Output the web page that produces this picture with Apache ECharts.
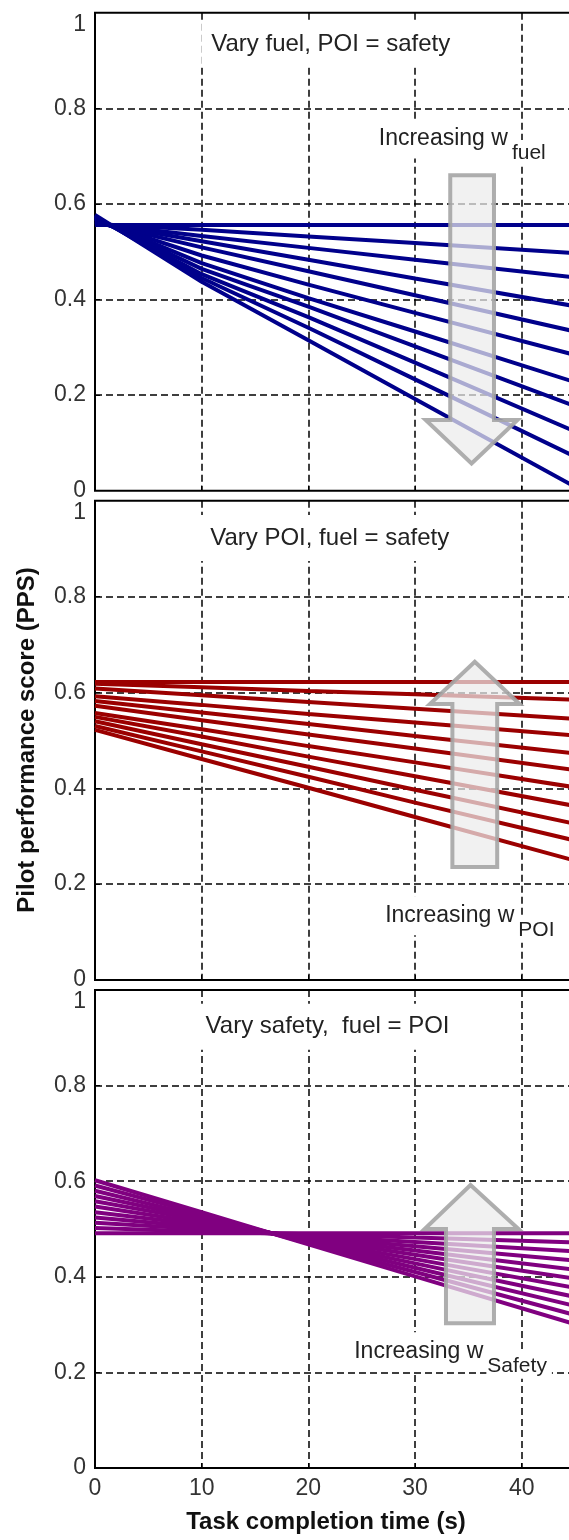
<!DOCTYPE html>
<html><head><meta charset="utf-8">
<script src="https://cdn.jsdelivr.net/npm/echarts@6/dist/echarts.min.js"></script>
<style>html,body{margin:0;padding:0;background:#fff;overflow:hidden}#c{width:569px;height:1540px}</style>
</head><body><div id="c"></div>
<script>
// ---- data ----
const TIMES = [0, 10, 20, 30, 45];              // task completion time (s)
const X_TICKS = [0, 10, 20, 30, 40, 50];
const Y_TICKS = [0, 0.2, 0.4, 0.6, 0.8, 1];

// Panel 1: Vary fuel, POI = safety  (PPS at TIMES, w_fuel increasing top->bottom)
const fuelLines = [
  [0.556, 0.556, 0.556, 0.556, 0.556],
  [0.558, 0.546, 0.532, 0.518, 0.497],
  [0.559, 0.533, 0.508, 0.483, 0.446],
  [0.561, 0.522, 0.483, 0.444, 0.386],
  [0.562, 0.509, 0.459, 0.409, 0.333],
  [0.565, 0.492, 0.431, 0.372, 0.284],
  [0.568, 0.476, 0.403, 0.333, 0.227],
  [0.570, 0.464, 0.385, 0.302, 0.177],
  [0.572, 0.453, 0.363, 0.268, 0.124],
  [0.574, 0.445, 0.341, 0.233, 0.071],
  [0.577, 0.437, 0.315, 0.192, 0.008]
];
// Panel 2: Vary POI, fuel = safety
const poiLines = [
  [0.622, 0.622, 0.622, 0.622, 0.622],
  [0.618, 0.611, 0.603, 0.596, 0.585],
  [0.608, 0.594, 0.580, 0.566, 0.545],
  [0.592, 0.574, 0.555, 0.537, 0.510],
  [0.582, 0.558, 0.534, 0.509, 0.473],
  [0.572, 0.542, 0.512, 0.483, 0.438],
  [0.557, 0.523, 0.488, 0.454, 0.402],
  [0.549, 0.508, 0.466, 0.425, 0.363],
  [0.540, 0.492, 0.445, 0.397, 0.326],
  [0.530, 0.477, 0.424, 0.370, 0.291],
  [0.522, 0.461, 0.401, 0.340, 0.249]
];
// Panel 3: Vary safety, fuel = POI
const safetyLines = [
  [0.491, 0.491, 0.491, 0.491, 0.491],
  [0.502, 0.495, 0.489, 0.482, 0.472],
  [0.513, 0.500, 0.486, 0.473, 0.453],
  [0.524, 0.504, 0.484, 0.464, 0.434],
  [0.535, 0.509, 0.482, 0.455, 0.415],
  [0.547, 0.513, 0.480, 0.446, 0.396],
  [0.558, 0.518, 0.477, 0.437, 0.377],
  [0.569, 0.522, 0.475, 0.428, 0.358],
  [0.580, 0.526, 0.473, 0.419, 0.339],
  [0.591, 0.531, 0.470, 0.410, 0.320],
  [0.602, 0.535, 0.468, 0.401, 0.301]
];

const PANEL_TITLES = ['Vary fuel, POI = safety', 'Vary POI, fuel = safety', 'Vary safety,  fuel = POI'];
const ANNOT_MAIN = 'Increasing w';
const ANNOT_SUBS = ['fuel', 'POI', 'Safety'];
const X_TITLE = 'Task completion time (s)';
const Y_TITLE = 'Pilot performance score (PPS)';

// ---- styling / layout ----
const FONT = '"Liberation Sans", Arial, Helvetica, sans-serif';
const COLORS = ['#00008b', '#9b0000', '#800080'];
const PANELS = [fuelLines, poiLines, safetyLines];
const GRID_TOPS = [12.7, 500.7, 990];
const GRID_HEIGHTS = [478, 479.3, 478];

const chart = echarts.init(document.getElementById('c'), null, {renderer: 'canvas'});

const grids = [], xAxes = [], yAxes = [], series = [];
for (let i = 0; i < 3; i++) {
  grids.push({left: 95, width: 533.4, top: GRID_TOPS[i], height: GRID_HEIGHTS[i],
    containLabel: false, outerBoundsMode: 'none',
    show: true, borderColor: '#000', borderWidth: 2, backgroundColor: '#fff'});
  xAxes.push({type: 'value', gridIndex: i, min: X_TICKS[0], max: X_TICKS[X_TICKS.length - 1], interval: 10,
    axisLine: {show: false},
    axisTick: {show: true, inside: true, length: 5, lineStyle: {color: '#000', width: 1}},
    axisLabel: {show: i === 2, fontSize: 23, fontFamily: FONT, color: '#333', margin: 9},
    splitLine: {show: true, showMinLine: false, showMaxLine: false,
      lineStyle: {color: '#000', width: 1.5, type: [7, 4]}}
  });
  yAxes.push({type: 'value', gridIndex: i, min: Y_TICKS[0], max: Y_TICKS[Y_TICKS.length - 1], interval: 0.2,
    axisLine: {show: false},
    axisTick: {show: true, inside: true, length: 5, lineStyle: {color: '#000', width: 1}},
    axisLabel: {fontSize: 23, fontFamily: FONT, color: '#333', margin: 9,
      verticalAlignMaxLabel: 'top', verticalAlignMinLabel: 'middle'},
    splitLine: {show: true, showMinLine: false, showMaxLine: false,
      lineStyle: {color: '#000', width: 1.5, type: [7, 4]}}
  });
  PANELS[i].forEach((vals, k) => {
    series.push({type: 'line', xAxisIndex: i, yAxisIndex: i, name: 'p' + i + 'w' + k,
      data: TIMES.map((t, j) => [t, vals[j]]),
      showSymbol: false, silent: true, animation: false,
      lineStyle: {color: COLORS[i], width: 4}, itemStyle: {color: COLORS[i]}, z: 2});
  });
}

chart.setOption({
  animation: false,
  backgroundColor: '#fff',
  grid: grids, xAxis: xAxes, yAxis: yAxes, series: series
});

// ---- annotations in data coordinates ----
const ARROWS = [ // bodyL, bodyR, tailV, headBaseV, headL, headR, tipT, tipV
  [33.3, 37.4, 0.660, 0.148, 31.0, 39.6, 35.3, 0.057],
  [33.5, 37.7, 0.236, 0.576, 31.4, 39.8, 35.6, 0.664],
  [32.9, 37.4, 0.303, 0.500, 30.9, 39.7, 35.2, 0.592]
];
const TITLE_POS = [[22.1, 0.934], [22.0, 0.922], [21.8, 0.923]];
const ANNOT_POS = [[26.6, 0.736], [27.2, 0.134], [24.3, 0.243]];

const px = (gi, t, v) => chart.convertToPixel({gridIndex: gi}, [t, v]);
const ctx = document.createElement('canvas').getContext('2d');
ctx.font = '23px ' + FONT;
const mainW = ctx.measureText(ANNOT_MAIN).width;

const graphics = [];
for (let i = 0; i < 3; i++) {
  const a = ARROWS[i];
  const pts = [
    px(i, a[0], a[2]), px(i, a[1], a[2]), px(i, a[1], a[3]), px(i, a[5], a[3]),
    px(i, a[6], a[7]), px(i, a[4], a[3]), px(i, a[0], a[3])
  ];
  graphics.push({type: 'polygon', z: 10, silent: true,
    shape: {points: pts},
    style: {fill: 'rgba(236,236,236,0.72)', stroke: 'rgba(165,165,165,0.9)', lineWidth: 4, lineJoin: 'miter'}});

  const tp = px(i, TITLE_POS[i][0], TITLE_POS[i][1]);
  graphics.push({type: 'text', z: 20, silent: true, x: tp[0], y: tp[1],
    style: {text: PANEL_TITLES[i], font: '24px ' + FONT, fill: '#222', align: 'center', verticalAlign: 'middle',
      backgroundColor: '#fff', padding: [11, 10, 11, 10]}});

  const ap = px(i, ANNOT_POS[i][0], ANNOT_POS[i][1]);
  graphics.push({type: 'text', z: 20, silent: true, x: ap[0] - 9, y: ap[1],
    style: {text: ANNOT_MAIN, font: '23px ' + FONT, fill: '#222', align: 'left', verticalAlign: 'middle',
      backgroundColor: '#fff', padding: [8, 2, 8, 9]}});
  graphics.push({type: 'text', z: 21, silent: true, x: ap[0] + mainW + 3, y: ap[1] + 14,
    style: {text: ANNOT_SUBS[i], font: '21px ' + FONT, fill: '#222', align: 'left', verticalAlign: 'middle',
      backgroundColor: '#fff', padding: [1, 5, 4, 1]}});
}
graphics.push({type: 'text', z: 20, silent: true, x: 27, y: 740, rotation: Math.PI / 2,
  style: {text: Y_TITLE, font: 'bold 24px ' + FONT, fill: '#111', align: 'center', verticalAlign: 'middle'}});
graphics.push({type: 'text', z: 20, silent: true, x: 326, y: 1522,
  style: {text: X_TITLE, font: 'bold 24px ' + FONT, fill: '#111', align: 'center', verticalAlign: 'middle'}});

chart.setOption({graphic: graphics});
</script></body></html>
